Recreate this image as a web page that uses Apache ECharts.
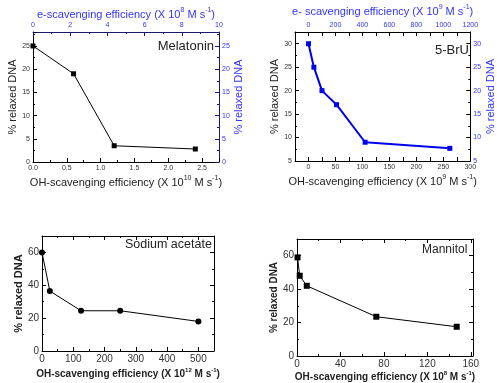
<!DOCTYPE html>
<html><head><meta charset="utf-8">
<script src="https://cdn.jsdelivr.net/npm/echarts@6/dist/echarts.min.js"></script>
<style>html,body{margin:0;padding:0;background:#fff}#c{width:497px;height:383px}</style>
</head><body><div id="c"></div>
<script>
// Melatonin
const melX = [0, 0.6, 1.2, 2.4];
const melY = [25, 19, 3.5, 2.8];
// 5-BrU
const bruX = [0, 10, 25, 52, 105, 262];
const bruY = [30, 25, 20, 17, 9, 7.7];
// Sodium acetate
const naX = [0, 25, 125, 250, 500];
const naY = [60, 36.5, 24.5, 24.5, 18];
// Mannitol
const manX = [0.5, 2.5, 9, 73, 147];
const manY = [59, 48, 42, 23.5, 17.5];

const FF = '"Liberation Sans", Arial, sans-serif';
const BLUE = '#3333ff';
const NAVY = '#1a1a6e';
const zip = (a, b) => a.map((v, i) => [v, b[i]]);
const fmtStep = (step, dec) => v => {
  const r = v / step;
  return Math.abs(r - Math.round(r)) < 1e-6 ? (dec ? v.toFixed(dec) : String(Math.round(v))) : '';
};
const sup = (fs, color, bold) => ({
  base: {fontSize: fs, color: color, fontFamily: FF, fontWeight: bold ? 'bold' : 'normal', lineHeight: fs + 4},
  sup: {fontSize: Math.round(fs * 0.6), color: color, fontFamily: FF, fontWeight: bold ? 'bold' : 'normal', verticalAlign: 'top', padding: [0, 0, 4, 0], lineHeight: fs + 4}
});

function ax(o) {
  const base = {
    type: 'value', nameLocation: 'middle',
    splitLine: {show: false},
    axisLine: {show: true, onZero: false, lineStyle: {color: o.lineColor || '#000', width: 1}},
    axisTick: {show: true, inside: true, length: 4, lineStyle: {color: o.lineColor || '#000'}},
    minorTick: {show: true, splitNumber: o.minorSplit || 2, length: 2, lineStyle: {color: o.lineColor || '#000'}},
    axisLabel: {show: o.labels !== false, fontSize: o.labelSize || 7, color: o.labelColor || '#333', fontFamily: FF, margin: o.labelMargin || 3, formatter: o.fmt},
  };
  return Object.assign(base, o.extra);
}

const option = {
  animation: false,
  backgroundColor: '#fff',
  grid: [
    {left: 33, top: 32, width: 186, height: 130},
    {left: 295, top: 32, width: 183, height: 129},
    {left: 42, top: 236, width: 172, height: 115},
    {left: 297, top: 239, width: 176, height: 117}
  ],
  xAxis: [
    ax({fmt: fmtStep(0.5, 1), extra: {gridIndex: 0, position: 'bottom', min: 0, max: 2.75, interval: 0.5,
      name: '{base|OH-scavenging efficiency (X 10}{sup|10}{base| M s}{sup|-1}{base|)}', nameGap: 13,
      nameTextStyle: {rich: sup(11, '#222')}}}),
    ax({fmt: fmtStep(2, 0), lineColor: NAVY, labelColor: BLUE, extra: {gridIndex: 0, position: 'top', min: 0, max: 10, interval: 2,
      name: '{base|e-scavenging efficiency (X 10}{sup|8}{base| M s}{sup|-1}{base|)}', nameGap: 10,
      nameTextStyle: {rich: sup(11, BLUE)}}}),
    ax({fmt: fmtStep(50, 0), minorSplit: 1, extra: {gridIndex: 1, position: 'bottom', min: -25, max: 300, interval: 25,
      name: '{base|OH-scavenging efficiency (X 10}{sup|9}{base| M s}{sup|-1}{base|)}', nameGap: 13,
      nameTextStyle: {rich: sup(11, '#222')}}}),
    ax({fmt: fmtStep(200, 0), minorSplit: 1, labelColor: BLUE, extra: {gridIndex: 1, position: 'top', min: -100, max: 1200, interval: 100,
      name: '{base|e- scavenging efficiency (X 10}{sup|9}{base| M s}{sup|-1}{base|)}', nameGap: 13,
      nameTextStyle: {rich: sup(11, BLUE)}}}),
    ax({fmt: fmtStep(100, 0), labelSize: 10, extra: {gridIndex: 2, position: 'bottom', min: 0, max: 550, interval: 100,
      name: '{base|OH-scavenging efficiency (X 10}{sup|12}{base| M s}{sup|-1}{base|)}', nameGap: 16,
      nameTextStyle: {rich: sup(10, '#222', true)}}}),
    ax({labels: false, extra: {gridIndex: 2, position: 'top', min: 0, max: 550, interval: 100}}),
    ax({fmt: fmtStep(40, 0), labelSize: 10, extra: {gridIndex: 3, position: 'bottom', min: 0, max: 162, interval: 40,
      name: '{base|OH-scavenging efficiency (X 10}{sup|8}{base| M s}{sup|-1}{base|)}', nameGap: 11,
      nameTextStyle: {rich: sup(10, '#222', true)}}}),
    ax({labels: false, extra: {gridIndex: 3, position: 'top', min: 0, max: 162, interval: 40}})
  ],
  yAxis: [
    ax({fmt: fmtStep(5, 0), extra: {gridIndex: 0, position: 'left', min: 0, max: 28, interval: 5,
      name: '% relaxed DNA', nameGap: 11, nameTextStyle: {fontSize: 11, color: '#222', fontFamily: FF}}}),
    ax({fmt: fmtStep(5, 0), lineColor: NAVY, labelColor: BLUE, extra: {gridIndex: 0, position: 'right', min: 0, max: 28, interval: 5,
      name: '% relaxed DNA', nameGap: 10, nameTextStyle: {fontSize: 11, color: BLUE, fontFamily: FF}}}),
    ax({fmt: fmtStep(5, 0), extra: {gridIndex: 1, position: 'left', min: 5, max: 32.5, interval: 5,
      name: '% relaxed DNA', nameGap: 14, nameTextStyle: {fontSize: 11, color: '#222', fontFamily: FF}}}),
    ax({fmt: fmtStep(5, 0), labelColor: BLUE, extra: {gridIndex: 1, position: 'right', min: 5, max: 32.5, interval: 5,
      name: '% relaxed DNA', nameGap: 13, nameTextStyle: {fontSize: 11, color: BLUE, fontFamily: FF}}}),
    ax({fmt: fmtStep(20, 0), labelSize: 10, extra: {gridIndex: 2, position: 'left', min: 0, max: 70, interval: 20,
      name: '% relaxed DNA', nameGap: 18, nameTextStyle: {fontSize: 11, fontWeight: 'bold', color: '#222', fontFamily: FF}}}),
    ax({labels: false, extra: {gridIndex: 2, position: 'right', min: 0, max: 70, interval: 20}}),
    ax({fmt: fmtStep(20, 0), labelSize: 10, extra: {gridIndex: 3, position: 'left', min: 0, max: 70, interval: 20,
      name: '% relaxed DNA', nameGap: 16, nameTextStyle: {fontSize: 10, fontWeight: 'bold', color: '#222', fontFamily: FF}}}),
    ax({labels: false, extra: {gridIndex: 3, position: 'right', min: 0, max: 70, interval: 20}})
  ],
  series: [
    {type: 'line', xAxisIndex: 0, yAxisIndex: 0, data: zip(melX, melY), symbol: 'rect', symbolSize: 5,
      lineStyle: {color: '#000', width: 1}, itemStyle: {color: '#000'}},
    {type: 'line', xAxisIndex: 2, yAxisIndex: 2, data: zip(bruX, bruY), symbol: 'rect', symbolSize: 5,
      lineStyle: {color: '#0000ee', width: 2}, itemStyle: {color: '#0000ee'}},
    {type: 'line', xAxisIndex: 4, yAxisIndex: 4, data: zip(naX, naY), symbol: 'circle', symbolSize: 6,
      lineStyle: {color: '#000', width: 1}, itemStyle: {color: '#000'}},
    {type: 'line', xAxisIndex: 6, yAxisIndex: 6, data: zip(manX, manY), symbol: 'rect', symbolSize: 6,
      lineStyle: {color: '#000', width: 1}, itemStyle: {color: '#000'}}
  ],
  graphic: [
    {type: 'text', right: 497 - 214, top: 40, style: {text: 'Melatonin', font: '13px ' + FF, fill: '#222'}},
    {type: 'text', left: 435, top: 44, style: {text: '5-BrU', font: '13px ' + FF, fill: '#222'}},
    {type: 'text', left: 125, top: 238, style: {text: 'Sodium acetate', font: '12.5px ' + FF, fill: '#222'}},
    {type: 'text', left: 422, top: 244, style: {text: 'Mannitol', font: '12px ' + FF, fill: '#222'}}
  ]
};
const chart = echarts.init(document.getElementById('c'), null, {renderer: 'canvas'});
chart.setOption(option);
</script></body></html>
